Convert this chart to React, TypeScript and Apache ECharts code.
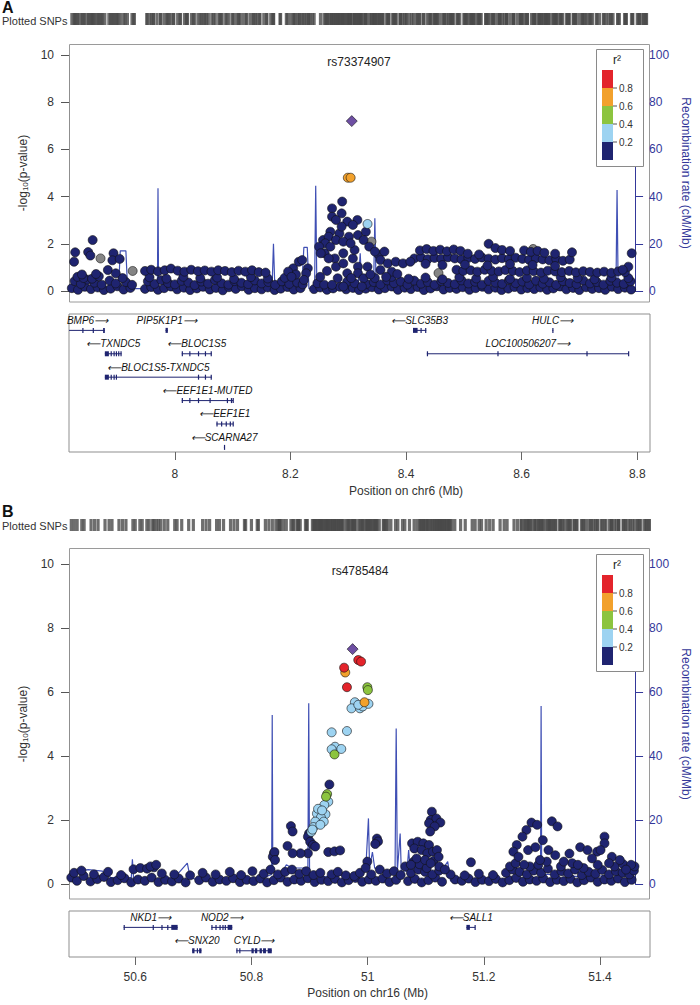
import { useEffect, useRef } from 'react';
import * as echarts from 'echarts';

const FONT = "'Liberation Sans', Arial, Helvetica, sans-serif";
const NAVY = '#1f2470';
const GREY = '#858585';
const LBLUE = '#9dd3f1';
const GREEN = '#8cc43f';
const ORANGE = '#f2a12c';
const RED = '#e3242b';
const PURPLE = '#6e4fa3';
const RECOMB = '#3f4fb4';
const AXBLUE = '#34389a';

// ---------- Panel A (chr6) ----------
const rangeA = [7.817, 8.822];
const ticksA = [8, 8.2, 8.4, 8.6, 8.8];
const leadA = [[8.319, 7.2]];
const orangeA = [[8.312, 4.8], [8.317, 4.8]];
const lblueA = [[8.347, 2.84]];
const greyA = [[7.873, 1.38], [7.93, 0.85], [8.354, 2.09], [8.641, 1.78], [8.473, 0.76]];
const navyA_base = [
  [7.822,0.12],[7.833,0.05],[7.845,0.18],[7.856,0.08],[7.868,0.15],[7.879,0.04],[7.891,0.1],[7.903,0.2],[7.914,0.06],[7.926,0.13],[7.952,0.09],[7.963,0.17],[7.975,0.05],[7.986,0.12],[7.998,0.19],[8.009,0.07],[8.021,0.14],[8.032,0.04],[8.044,0.11],[8.055,0.18],[8.067,0.06],[8.078,0.13],[8.09,0.03],[8.101,0.16],[8.113,0.09],[8.124,0.2],[8.136,0.05],[8.147,0.12],[8.159,0.07],[8.17,0.15],[8.182,0.04],[8.193,0.1],[8.205,0.17],[8.216,0.06],[8.228,0.12],[8.252,0.08],[8.263,0.15],[8.275,0.05],[8.286,0.11],[8.298,0.18],[8.309,0.07],[8.321,0.13],[8.332,0.04],[8.344,0.1],[8.355,0.16],[8.367,0.06],[8.378,0.12],[8.39,0.19],[8.401,0.05],[8.413,0.14],[8.424,0.08],[8.436,0.17],[8.447,0.04],[8.459,0.11],[8.47,0.2],[8.482,0.06],[8.493,0.13],[8.505,0.09],[8.516,0.16],[8.528,0.05],[8.539,0.12],[8.551,0.18],[8.562,0.07],[8.574,0.14],[8.585,0.04],[8.597,0.1],[8.608,0.17],[8.62,0.06],[8.631,0.12],[8.643,0.08],[8.654,0.15],[8.666,0.05],[8.677,0.11],[8.689,0.19],[8.7,0.07],[8.712,0.13],[8.723,0.04],[8.735,0.16],[8.746,0.09],[8.758,0.12],[8.769,0.05],[8.781,0.18],[8.792,0.08],[8.804,0.14],[8.815,0.06]
];
const navyA_mid = [
  [7.827,0.42],[7.838,0.3],[7.85,0.48],[7.862,0.35],[7.875,0.27],[7.889,0.44],[7.9,0.32],[7.918,0.38],[7.929,0.26],[7.957,0.41],[7.969,0.3],[7.981,0.46],[7.993,0.34],[8.005,0.28],[8.017,0.43],[8.029,0.36],[8.04,0.25],[8.052,0.4],[8.064,0.31],[8.076,0.47],[8.088,0.33],[8.1,0.27],[8.111,0.42],[8.123,0.35],[8.135,0.29],[8.147,0.45],[8.159,0.32],[8.171,0.38],[8.183,0.26],[8.195,0.41],[8.208,0.3],[8.222,0.36],[8.232,0.28],[8.258,0.33],[8.27,0.27],[8.345,0.3],[8.358,0.38],[8.37,0.28],[8.382,0.45],[8.394,0.33],[8.406,0.4],[8.418,0.27],[8.43,0.44],[8.442,0.31],[8.454,0.38],[8.466,0.26],[8.478,0.42],[8.49,0.34],[8.502,0.29],[8.514,0.45],[8.526,0.32],[8.538,0.39],[8.55,0.27],[8.562,0.43],[8.574,0.35],[8.586,0.3],[8.598,0.46],[8.61,0.33],[8.622,0.4],[8.634,0.28],[8.646,0.44],[8.658,0.31],[8.67,0.37],[8.682,0.26],[8.694,0.42],[8.706,0.34],[8.718,0.29],[8.73,0.45],[8.742,0.32],[8.754,0.38],[8.766,0.27],[8.778,0.43],[8.79,0.35],[8.802,0.3],[8.814,0.41],
  [7.832,0.6],[7.843,0.55],[7.858,0.52],[7.87,0.62],[7.912,0.55],[7.96,0.58],[7.99,0.52],[8.02,0.6],[8.05,0.54],[8.08,0.57],[8.11,0.51],[8.14,0.59],[8.17,0.53],[8.2,0.56],[8.36,0.55],[8.39,0.6],[8.42,0.52],[8.45,0.57],[8.48,0.5],[8.51,0.58],[8.54,0.53],[8.57,0.6],[8.6,0.51],[8.63,0.56],[8.66,0.52],[8.69,0.59],[8.72,0.54],[8.75,0.5],[8.78,0.57],[8.81,0.55]
];
const navyA_rows = [
  [7.952,0.85],[7.963,0.9],[7.975,0.83],[7.987,0.88],[7.998,0.95],[8.01,0.86],[8.022,0.82],[8.034,0.9],[8.046,0.84],[8.058,0.87],[8.07,0.82],[8.082,0.88],[8.094,0.85],[8.106,0.8],[8.118,0.86],[8.13,0.82],[8.142,0.88],[8.154,0.8],[8.166,0.78],
  [8.505,0.9],[8.517,0.85],[8.53,0.88],[8.542,0.82],[8.555,0.9],[8.567,0.86],[8.58,0.83],[8.592,0.89],[8.605,0.85],[8.617,0.8],[8.63,0.87],[8.642,0.84],[8.655,0.78],[8.667,0.86],[8.68,0.83],[8.692,0.8],[8.705,0.85],[8.717,0.79],[8.73,0.84],[8.742,0.81],[8.755,0.78],[8.767,0.82],[8.78,0.77],[8.792,0.83],[8.804,0.8],
  [8.43,1.38],[8.442,1.42],[8.454,1.35],[8.466,1.4],[8.478,1.36],[8.49,1.43],[8.502,1.38],[8.514,1.34],[8.526,1.4],[8.538,1.36],[8.55,1.42],[8.562,1.37],[8.574,1.33],[8.586,1.39],[8.598,1.35],[8.61,1.41],[8.622,1.36],[8.634,1.32],[8.646,1.38],[8.658,1.34],[8.67,1.3],[8.682,1.36],[8.694,1.28],[8.706,1.33],
  [8.44,1.72],[8.452,1.78],[8.464,1.7],[8.476,1.75],[8.488,1.68],[8.5,1.76],[8.512,1.7],[8.562,2.0],[8.574,1.82],[8.586,1.74],[8.6,1.7],[8.625,1.72],[8.637,1.66],[8.649,1.7],[8.661,1.62],[8.68,1.58],[8.71,1.64],[8.525,1.58],[8.545,1.55],
  [8.45,1.15],[8.48,1.1],[8.52,1.12],[8.56,1.08],[8.6,1.14],[8.64,1.1],[8.68,1.06],
  [8.367,1.53],[8.37,1.31],[8.383,1.17],[8.397,1.24],[8.41,1.17],[8.423,1.24],[8.37,0.89],[8.39,0.82],[8.38,0.6],[8.4,0.72],
  [8.816,1.6],[8.81,1.03],[8.8,0.9]
];
const navyA_peak = [
  [7.828,1.64],[7.826,1.24],[7.859,2.16],[7.851,1.65],[7.855,1.5],[7.896,1.6],[7.894,1.3],[7.907,1.36],[7.886,0.89],[7.9,0.75],[7.84,0.7],[7.865,0.72],
  [8.215,0.96],[8.225,1.24],[8.231,1.31],[8.241,0.96],[8.238,0.75],[8.234,0.47],[8.22,0.7],[8.206,0.82],[8.212,0.6],
  [8.302,3.79],[8.284,3.5],[8.284,3.15],[8.301,3.29],[8.311,2.94],[8.329,3.01],[8.321,2.8],[8.281,2.51],[8.297,2.44],[8.314,2.3],[8.268,2.16],[8.278,2.3],[8.33,2.37],[8.344,2.51],[8.272,2.02],[8.261,1.88],[8.291,2.16],[8.304,2.09],[8.34,2.16],[8.271,1.6],[8.289,1.38],[8.304,1.6],[8.321,1.38],[8.291,1.03],[8.311,0.75],[8.294,0.54],[8.311,0.4],[8.33,1.03],[8.347,1.03],[8.35,1.88],[8.36,1.67],[8.377,1.67],[8.264,1.6],[8.278,1.38],[8.304,1.17],[8.324,1.74],[8.281,1.88],[8.301,2.73],[8.291,3.01],[8.317,2.02],[8.33,0.75],[8.34,0.54],[8.304,0.19],[8.284,0.26],[8.324,0.33],[8.337,0.19],[8.263,0.6],[8.275,0.85],[8.318,0.55],[8.352,0.7]
];
const recombA = [
  [7.817,1],[7.83,2],[7.86,1],[7.905,1],[7.908,17],[7.918,17],[7.921,1],[7.97,1],[7.974,2],[7.975,43.5],[7.976,2],[7.98,1],[8.05,0.5],[8.1,1],[8.175,1],[8.178,5],[8.18,20],[8.182,5],[8.185,1],[8.23,1],[8.234,18.5],[8.24,18.5],[8.243,1],[8.253,1],[8.255,44.6],[8.257,2],[8.27,1],[8.3,1.5],[8.33,1],[8.334,16],[8.337,1],[8.355,1],[8.358,5],[8.36,30.8],[8.362,5],[8.365,1],[8.4,0.8],[8.5,0.5],[8.6,0.6],[8.7,0.5],[8.788,0.5],[8.79,42.8],[8.792,0.5],[8.822,0.5]
];
const genesA = [
  { name: 'BMP6', start: 7.727, end: 7.879, row: 0, strand: '+', exons: [[7.727,7.73],[7.84,7.8415],[7.858,7.8595],[7.876,7.879]] },
  { name: 'PIP5K1P1', start: 7.984, end: 7.988, row: 0, strand: '+', exons: [[7.984,7.988]] },
  { name: 'TXNDC5', start: 7.879, end: 7.908, row: 1, strand: '-', exons: [[7.879,7.886],[7.889,7.891],[7.894,7.8955],[7.898,7.8995],[7.902,7.9035],[7.906,7.908]] },
  { name: 'BLOC1S5', start: 8.012, end: 8.064, row: 1, strand: '-', exons: [[8.012,8.014],[8.025,8.026],[8.04,8.041],[8.052,8.053],[8.062,8.064]] },
  { name: 'BLOC1S5-TXNDC5', start: 7.879, end: 8.064, row: 2, strand: '-', exons: [[7.879,7.886],[7.889,7.891],[7.894,7.8955],[7.898,7.8995],[8.04,8.041],[8.052,8.053],[8.062,8.064]] },
  { name: 'EEF1E1-MUTED', start: 8.012, end: 8.101, row: 3, strand: '-', exons: [[8.012,8.014],[8.025,8.026],[8.04,8.041],[8.06,8.061],[8.09,8.091],[8.097,8.098],[8.1,8.101]] },
  { name: 'EEF1E1', start: 8.072, end: 8.101, row: 4, strand: '-', exons: [[8.072,8.073],[8.08,8.081],[8.088,8.089],[8.095,8.096],[8.1,8.101]] },
  { name: 'SCARNA27', start: 8.085, end: 8.0855, row: 5, strand: '-', exons: [[8.085,8.0855]] },
  { name: 'SLC35B3', start: 8.412, end: 8.435, row: 0, strand: '-', exons: [[8.412,8.42],[8.425,8.427],[8.433,8.435]] },
  { name: 'HULC', start: 8.653, end: 8.6545, row: 0, strand: '+', exons: [[8.653,8.6545]] },
  { name: 'LOC100506207', start: 8.436, end: 8.785, row: 1, strand: '+', exons: [[8.436,8.437],[8.558,8.559],[8.712,8.713],[8.784,8.785]] }
];

// ---------- Panel B (chr16) ----------
const rangeB = [50.486, 51.486];
const ticksB = [50.6, 50.8, 51, 51.2, 51.4];
const leadB = [[50.987, 7.34]];
const redB = [[50.997,7.0],[51.002,6.95],[50.972,6.76],[50.977,6.15]];
const orangeB = [[50.974,6.61],[51.008,5.68]];
const greenB = [[51.013,6.15],[51.014,6.06],[50.955,4.05],[50.942,2.81],[50.94,2.73]];
const lblueB = [
  [50.991,5.68],[50.985,5.49],[51.0,5.49],[51.005,5.55],[51.015,5.63],[50.997,5.6],[50.95,4.74],[50.977,4.78],[50.956,4.29],[50.967,4.22],[50.95,4.21],
  [50.944,2.57],[50.937,2.47],[50.928,2.26],[50.924,2.2],[50.939,2.18],[50.931,2.08],[50.921,1.95],[50.936,1.95],[50.918,1.78],[50.914,1.63],[50.916,1.7],[50.93,1.85],[50.926,2.35],[50.933,2.3]
];
const navyB_base = [
  [50.49,0.2],[50.5,0.1],[50.512,0.25],[50.524,0.08],[50.536,0.15],[50.548,0.22],[50.56,0.06],[50.572,0.12],[50.584,0.18],[50.596,0.05],[50.608,0.14],[50.62,0.1],[50.632,0.2],[50.644,0.06],[50.656,0.13],[50.668,0.08],[50.68,0.17],[50.692,0.05],[50.716,0.12],[50.728,0.2],[50.74,0.07],[50.752,0.14],[50.764,0.1],[50.776,0.18],[50.788,0.06],[50.8,0.13],[50.812,0.09],[50.824,0.17],[50.836,0.05],[50.848,0.12],[50.86,0.2],[50.872,0.07],[50.884,0.14],[50.896,0.1],[50.908,0.18],[50.92,0.06],[50.932,0.13],[50.944,0.09],[50.956,0.16],[50.968,0.05],[50.98,0.12],[50.992,0.19],[51.004,0.07],[51.016,0.14],[51.028,0.1],[51.04,0.17],[51.052,0.06],[51.064,0.13],[51.085,0.09],[51.097,0.16],[51.109,0.05],[51.121,0.12],[51.133,0.2],[51.145,0.07],[51.168,0.14],[51.18,0.1],[51.192,0.17],[51.204,0.06],[51.216,0.13],[51.228,0.09],[51.24,0.16],[51.252,0.05],[51.264,0.12],[51.276,0.19],[51.288,0.07],[51.3,0.14],[51.312,0.1],[51.324,0.17],[51.336,0.06],[51.348,0.13],[51.36,0.09],[51.372,0.16],[51.384,0.05],[51.396,0.12],[51.408,0.2],[51.42,0.07],[51.432,0.14],[51.444,0.1],[51.456,0.17],[51.468,0.06],[51.48,0.13]
];
const navyB_mid = [
  [50.495,0.35],[50.508,0.42],[50.53,0.3],[50.555,0.38],[50.578,0.28],[50.6,0.46],[50.612,0.5],[50.624,0.48],[50.636,0.52],[50.65,0.33],[50.672,0.3],[50.7,0.27],[50.722,0.35],[50.745,0.3],[50.77,0.38],[50.79,0.28],[50.81,0.4],[50.83,0.32],[50.842,0.45],[50.855,0.3],[50.868,0.38],[50.88,0.45],[50.893,0.32],[50.905,0.4],[50.918,0.28],[50.93,0.35],[50.95,0.3],[50.975,0.27],[50.99,0.25],[51.0,0.35],[51.02,0.3],[51.035,0.45],[51.048,0.33],[51.06,0.4],[51.072,0.28],[51.09,0.35],[51.103,0.45],[51.115,0.38],[51.128,0.3],[51.14,0.42],[51.16,0.3],[51.185,0.27],[51.21,0.32],[51.235,0.28],[51.258,0.35],[51.27,0.45],[51.282,0.38],[51.295,0.3],[51.307,0.42],[51.32,0.35],[51.332,0.48],[51.344,0.3],[51.356,0.4],[51.368,0.33],[51.38,0.45],[51.392,0.28],[51.404,0.38],[51.416,0.32],[51.428,0.44],[51.44,0.3],[51.452,0.4],[51.464,0.35],[51.476,0.3],[51.484,0.42],
  [51.08,0.55],[51.095,0.7],[51.105,0.62],[51.118,0.5],[51.13,0.72],[51.14,0.55],[51.15,0.45],[51.265,0.55],[51.275,0.65],[51.3,0.55],[51.315,0.6],[51.33,0.7],[51.355,0.55],[51.375,0.65],[51.395,0.5],[51.42,0.6],[51.45,0.55],[51.465,0.62],[51.485,0.55],[50.63,0.55],[50.64,0.6]
];
const navyB_peak = [
  [50.946,3.11],[50.91,1.58],[50.908,1.48],[50.912,1.32],[50.917,1.22],[50.921,1.17],[50.908,0.96],[50.895,0.96],[50.881,0.96],[50.878,1.81],[50.881,1.64],[50.872,1.19],[50.848,0.96],[50.846,0.85],[50.849,1.0],[50.85,0.75],
  [50.944,1.0],[50.955,1.02],[50.965,1.05],[50.961,0.38],
  [51.03,1.42],[51.032,1.33],[51.027,1.25],[51.013,0.7],[51.01,0.5],
  [51.092,1.27],[51.102,1.32],[51.112,1.27],[51.122,1.22],[51.096,1.11],[51.109,1.06],[51.119,0.96],[51.129,1.01],[51.136,1.06],[51.139,0.85],[51.1,0.8],[51.115,0.75],[51.09,0.6],[51.125,0.65],
  [51.127,2.26],[51.125,2.0],[51.135,2.05],[51.142,1.92],[51.122,1.9],[51.132,1.8],[51.124,1.64],
  [51.196,0.68],
  [51.303,1.92],[51.313,1.85],[51.339,1.96],[51.349,1.8],[51.294,1.69],[51.287,1.48],[51.277,1.22],[51.271,1.01],[51.28,0.85],[51.297,1.06],[51.323,1.37],[51.333,1.06],[51.31,1.15],[51.29,0.6],[51.318,0.75],[51.345,0.9],
  [51.389,1.15],[51.402,1.06],[51.419,1.01],[51.432,1.48],[51.432,1.27],[51.425,1.06],[51.445,0.85],[51.459,0.75],[51.479,0.6],[51.37,0.95],[51.36,0.7],[51.41,0.8],[51.44,0.65],[51.385,0.6],[51.47,0.45]
];
const recombB = [
  [50.486,3],[50.5,4],[50.52,4.5],[50.545,4],[50.56,2],[50.596,2],[50.598,7.7],[50.6,2],[50.62,1],[50.67,1.5],[50.695,6.5],[50.7,2],[50.72,1],[50.8,1.5],[50.83,2],[50.844,3],[50.845,52.8],[50.846,4],[50.86,3],[50.87,6],[50.88,5],[50.895,5],[50.908,5],[50.9095,56.5],[50.911,3],[50.93,2],[50.96,3],[50.98,2],[51.01,4],[51.015,20.5],[51.017,5],[51.022,10],[51.026,5],[51.035,4],[51.05,4],[51.062,5],[51.064,48.6],[51.066,4],[51.071,15.8],[51.073,4],[51.083,4],[51.086,10.6],[51.089,4],[51.1,6],[51.115,5],[51.12,6],[51.125,4],[51.14,3],[51.155,7],[51.16,1],[51.2,1],[51.25,1.5],[51.3,2],[51.319,2],[51.32,55.6],[51.321,3],[51.35,3],[51.4,2],[51.45,3],[51.486,2]
];
const genesB = [
  { name: 'NKD1', start: 50.58, end: 50.673, row: 0, strand: '+', exons: [[50.58,50.581],[50.63,50.631],[50.645,50.646],[50.655,50.657],[50.662,50.673]] },
  { name: 'NOD2', start: 50.731, end: 50.767, row: 0, strand: '+', exons: [[50.731,50.733],[50.738,50.74],[50.745,50.747],[50.75,50.751],[50.754,50.756],[50.759,50.767]] },
  { name: 'SALL1', start: 51.17, end: 51.185, row: 0, strand: '-', exons: [[51.17,51.176],[51.184,51.185]] },
  { name: 'SNX20', start: 50.698, end: 50.714, row: 1, strand: '-', exons: [[50.698,50.702],[50.706,50.708],[50.71,50.714]] },
  { name: 'CYLD', start: 50.774, end: 50.835, row: 1, strand: '+', exons: [[50.774,50.776],[50.779,50.781],[50.8,50.804],[50.806,50.81],[50.814,50.818],[50.82,50.825],[50.828,50.835]] }
];

const legendColors = [RED, ORANGE, GREEN, LBLUE, NAVY];
const legendLabels = ['0.8', '0.6', '0.4', '0.2'];

const PLOT_L = 69;
const PLOT_W = 581;

function geneRenderer(genes: any[]) {
  return (params: any, api: any) => {
    const g = genes[params.dataIndex];
    const cs = params.coordSys;
    const y = api.coord([g.start, g.row + 0.7])[1];
    const xs = api.coord([g.start, 0])[0];
    const xe = api.coord([g.end, 0])[0];
    const lo = cs.x, hi = cs.x + cs.width;
    const cx1 = Math.max(xs, lo), cx2 = Math.min(xe, hi);
    const children: any[] = [];
    children.push({ type: 'line', shape: { x1: cx1, y1: y, x2: Math.max(cx2, cx1 + 1), y2: y }, style: { stroke: NAVY, lineWidth: 1 } });
    g.exons.forEach((ex: number[]) => {
      const a = Math.max(api.coord([ex[0], 0])[0], lo);
      const b = Math.min(api.coord([ex[1], 0])[0], hi);
      if (b < lo || a > hi) return;
      children.push({ type: 'rect', shape: { x: a, y: y - 2.5, width: Math.max(b - a, 1.2), height: 5 }, style: { fill: NAVY } });
    });
    const label = g.strand === '+' ? g.name + '\u27f6' : '\u27f5' + g.name;
    const w = label.length * 6.2;
    let cx = (cx1 + cx2) / 2;
    cx = Math.max(cx, lo + 3 + w / 2);
    cx = Math.min(cx, hi - 3 - w / 2);
    children.push({ type: 'text', style: { text: label, x: cx, y: y - 10, align: 'center', verticalAlign: 'middle', font: `italic 10px ${FONT}`, fill: '#111' } });
    return { type: 'group', children };
  };
}

function legendEls(top: number) {
  const els: any[] = [];
  els.push({ type: 'rect', z: 100, shape: { x: 596.5, y: top + 0.5, width: 47, height: 117 }, style: { fill: '#fff', stroke: '#8a8a8a', lineWidth: 1 } });
  els.push({ type: 'text', z: 101, style: { text: 'r\u00b2', x: 617, y: top + 11, align: 'center', verticalAlign: 'middle', font: `12px ${FONT}`, fill: '#222' } });
  legendColors.forEach((c, i) => {
    els.push({ type: 'rect', z: 101, shape: { x: 602, y: top + 21 + i * 18, width: 11, height: 18 }, style: { fill: c } });
  });
  legendLabels.forEach((t, i) => {
    const yy = top + 21 + (i + 1) * 18;
    els.push({ type: 'line', z: 101, shape: { x1: 613, y1: yy, x2: 617, y2: yy }, style: { stroke: '#555', lineWidth: 1 } });
    els.push({ type: 'text', z: 101, style: { text: t, x: 619, y: yy, align: 'left', verticalAlign: 'middle', font: `10px ${FONT}`, fill: '#333' } });
  });
  return els;
}

function scatter(name: string, data: any[], color: string, xi: number, yi: number, symbol = 'circle', size = 9) {
  return {
    name, type: 'scatter', xAxisIndex: xi, yAxisIndex: yi, data, symbol, symbolSize: size, clip: false,
    itemStyle: { color, borderColor: '#111', borderWidth: 0.6, opacity: 1 }, silent: true, z: 3
  };
}

function buildPanel(p: any) {
  const { gi, xi, yi, range, ticks, grids, all, recomb, sets, genes, geneMax, xName, labelMargin, nameGap } = p;
  const span = range[1] - range[0];
  const tickLeft = PLOT_L + ((ticks[0] - range[0]) / span) * PLOT_W;
  const tickW = ((ticks[ticks.length - 1] - ticks[0]) / span) * PLOT_W;
  const geneBottom = grids.geneTop + grids.geneH;
  const grid = [
    { left: PLOT_L, width: PLOT_W, top: grids.bar, height: 12 },
    { left: PLOT_L, width: PLOT_W, top: grids.mainTop, height: grids.mainH },
    { left: PLOT_L, width: PLOT_W, top: grids.geneTop, height: grids.geneH, show: true, borderColor: '#8f8f8f', borderWidth: 1, backgroundColor: 'transparent' },
    { left: tickLeft, width: tickW, top: geneBottom - 1, height: 1 }
  ];
  const hiddenX = (g: number) => ({ type: 'value', gridIndex: g, min: range[0], max: range[1], show: false });
  const xAxis = [
    hiddenX(gi), hiddenX(gi + 1), hiddenX(gi + 2),
    {
      type: 'value', gridIndex: gi + 3, min: ticks[0], max: ticks[ticks.length - 1], interval: 0.2, position: 'bottom',
      axisLine: { show: false }, splitLine: { show: false },
      axisTick: { show: true, length: 8, lineStyle: { color: '#666' } },
      axisLabel: { fontSize: 12, color: '#333', fontFamily: FONT, margin: labelMargin, showMinLabel: true, showMaxLabel: true },
      name: xName, nameLocation: 'middle', nameGap, nameTextStyle: { fontSize: 12, color: '#333', fontFamily: FONT }
    }
  ];
  const yAxis = [
    { type: 'value', gridIndex: gi, min: 0, max: 1, show: false },
    {
      type: 'value', gridIndex: gi + 1, min: 0, max: 10, interval: 2, position: 'left',
      axisLine: { show: true, lineStyle: { color: '#8f8f8f' } }, splitLine: { show: false },
      axisTick: { show: true, length: 8, lineStyle: { color: '#555' } },
      axisLabel: { fontSize: 12, color: '#333', fontFamily: FONT, margin: 15 },
      name: '-log{s|10}(p-value)', nameLocation: 'middle', nameGap: 37, nameRotate: 90,
      nameTextStyle: { fontSize: 12, color: '#333', fontFamily: FONT, rich: { s: { fontSize: 8, fontFamily: FONT, color: '#333', padding: [6, 0, 0, 0] } } }
    },
    {
      type: 'value', gridIndex: gi + 1, min: 0, max: 100, interval: 20, position: 'right',
      axisLine: { show: true, lineStyle: { color: AXBLUE } }, splitLine: { show: false },
      axisTick: { show: true, length: 8, lineStyle: { color: AXBLUE } },
      axisLabel: { fontSize: 12, color: AXBLUE, fontFamily: FONT, margin: 14, align: 'left' },
      name: 'Recombination rate (cM/Mb)', nameLocation: 'middle', nameGap: 38, nameRotate: -90,
      nameTextStyle: { fontSize: 12, color: AXBLUE, fontFamily: FONT }
    },
    { type: 'value', gridIndex: gi + 2, min: 0, max: geneMax, inverse: true, show: false },
    { type: 'value', gridIndex: gi + 3, min: 0, max: 1, show: false }
  ];
  const series: any[] = [
    {
      type: 'scatter', xAxisIndex: xi, yAxisIndex: yi, data: all.map((d: number[]) => [d[0], 0.5]),
      symbol: 'rect', symbolSize: [3.2, 12], itemStyle: { color: '#4a4a4a' }, silent: true
    },
    {
      type: 'line', xAxisIndex: xi + 1, yAxisIndex: yi + 2, data: recomb, showSymbol: false, symbol: 'none',
      lineStyle: { color: RECOMB, width: 1.2 }, silent: true, z: 2
    },
    ...sets.map((s: any) => scatter(s.name, s.data, s.color, xi + 1, yi + 1, s.symbol, s.size)),
    {
      type: 'custom', xAxisIndex: xi + 2, yAxisIndex: yi + 3, data: genes.map((g: any) => [g.start, g.end, g.row]),
      encode: { x: [0, 1], y: 2 }, renderItem: geneRenderer(genes), silent: true, clip: false
    }
  ];
  return { grid, xAxis, yAxis, series };
}

export default function App() {
  const ref = useRef<HTMLDivElement>(null);
  useEffect(() => {
    if (!ref.current) return;
    const chart = echarts.init(ref.current, null, { renderer: 'svg' });
    const navyA = [...navyA_base, ...navyA_mid, ...navyA_rows, ...navyA_peak];
    const navyB = [...navyB_base, ...navyB_mid, ...navyB_peak];
    const pa = buildPanel({
      gi: 0, xi: 0, yi: 0, range: rangeA, ticks: ticksA, xName: 'Position on chr6 (Mb)', labelMargin: 16, nameGap: 33,
      grids: { bar: 13, mainTop: 55, mainH: 236, geneTop: 314, geneH: 138 }, geneMax: 138 / 23.4,
      all: [...greyA, ...navyA, ...lblueA, ...orangeA, ...leadA], recomb: recombA, genes: genesA,
      sets: [
        { name: 'grey', data: greyA, color: GREY },
        { name: 'navy', data: navyA, color: NAVY },
        { name: 'lblue', data: lblueA, color: LBLUE },
        { name: 'orange', data: orangeA, color: ORANGE },
        { name: 'lead', data: leadA, color: PURPLE, symbol: 'diamond', size: 11 }
      ]
    });
    const pb = buildPanel({
      gi: 4, xi: 4, yi: 5, range: rangeB, ticks: ticksB, xName: 'Position on chr16 (Mb)', labelMargin: 14, nameGap: 30,
      grids: { bar: 519, mainTop: 564, mainH: 320, geneTop: 911, geneH: 46 }, geneMax: 46 / 23.4,
      all: [...navyB, ...lblueB, ...greenB, ...orangeB, ...redB, ...leadB], recomb: recombB, genes: genesB,
      sets: [
        { name: 'navy', data: navyB, color: NAVY },
        { name: 'lblue', data: lblueB, color: LBLUE },
        { name: 'green', data: greenB, color: GREEN },
        { name: 'orange', data: orangeB, color: ORANGE },
        { name: 'red', data: redB, color: RED },
        { name: 'lead', data: leadB, color: PURPLE, symbol: 'diamond', size: 11 }
      ]
    });
    const graphic: any[] = [
      { type: 'text', style: { text: 'A', x: 2, y: -1, font: `bold 16px ${FONT}`, fill: '#111' } },
      { type: 'text', style: { text: 'Plotted SNPs', x: 2, y: 21, verticalAlign: 'middle', font: `11px ${FONT}`, fill: '#333' } },
      { type: 'rect', shape: { x: 69.5, y: 44.5, width: 580, height: 257.5 }, style: { fill: 'none', stroke: '#9a9a9a', lineWidth: 1 } },
      { type: 'text', style: { text: 'rs73374907', x: 359, y: 62, align: 'center', verticalAlign: 'middle', font: `12px ${FONT}`, fill: '#222' } },
      ...legendEls(49),
      { type: 'text', style: { text: 'B', x: 2, y: 503, font: `bold 16px ${FONT}`, fill: '#111' } },
      { type: 'text', style: { text: 'Plotted SNPs', x: 2, y: 526, verticalAlign: 'middle', font: `11px ${FONT}`, fill: '#333' } },
      { type: 'rect', shape: { x: 69.5, y: 548.5, width: 580, height: 350.5 }, style: { fill: 'none', stroke: '#9a9a9a', lineWidth: 1 } },
      { type: 'text', style: { text: 'rs4785484', x: 360, y: 571, align: 'center', verticalAlign: 'middle', font: `12px ${FONT}`, fill: '#222' } },
      ...legendEls(554)
    ];
    chart.setOption({
      animation: false,
      backgroundColor: '#fff',
      textStyle: { fontFamily: FONT },
      grid: [...pa.grid, ...pb.grid],
      xAxis: [...pa.xAxis, ...pb.xAxis],
      yAxis: [...pa.yAxis, ...pb.yAxis],
      series: [...pa.series, ...pb.series],
      graphic
    });
    return () => chart.dispose();
  }, []);
  return <div ref={ref} style={{ position: 'absolute', left: 0, top: 0, width: 700, height: 1005, background: '#fff' }} />;
}
